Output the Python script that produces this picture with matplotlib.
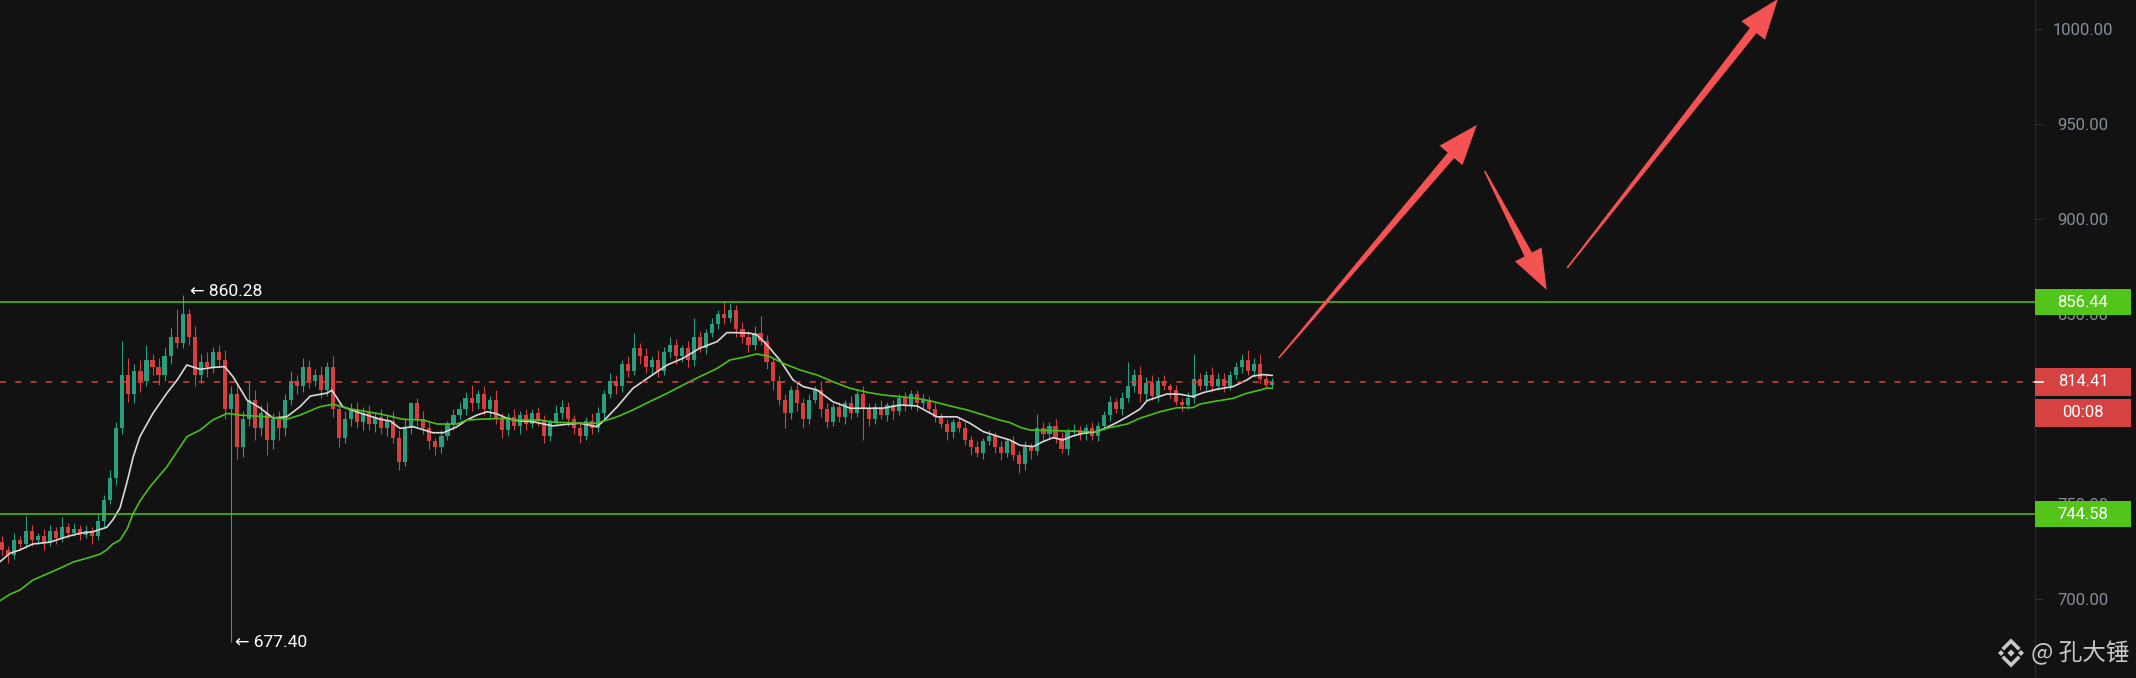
import matplotlib
matplotlib.use('Agg')
import matplotlib.pyplot as plt
from matplotlib.patches import Rectangle, Polygon
from matplotlib.lines import Line2D
from matplotlib.transforms import IdentityTransform
import numpy as np

plt.rcParams['font.family'] = ['Roboto', 'DejaVu Sans']

# ---- data ----
first_open = 730
# close of every bar (open = previous close)
closes = [726, 723, 731, 729, 736, 731, 733, 730, 736, 732,
          738, 735, 737, 734, 736, 733, 741, 752, 764, 790,
          818, 808, 820, 815, 826, 822, 818, 828, 838, 835,
          850, 838, 818, 825, 822, 830, 826, 800, 808, 780,
          795, 805, 790, 798, 784, 795, 790, 805, 815, 812,
          822, 815, 818, 810, 822, 800, 785, 795, 800, 793,
          798, 792, 796, 790, 794, 785, 772, 790, 803, 795,
          790, 783, 780, 786, 792, 797, 800, 806, 803, 808,
          800, 805, 795, 789, 796, 791, 797, 792, 798, 794,
          786, 793, 798, 801, 795, 790, 786, 794, 790, 798,
          808, 815, 812, 824, 820, 832, 828, 822, 826, 820,
          830, 834, 828, 832, 826, 838, 832, 840, 845, 850,
          848, 852, 842, 838, 834, 840, 836, 825, 815, 805,
          798, 810, 803, 795, 805, 810, 800, 793, 801, 796,
          803, 798, 808, 800, 795, 801, 797, 802, 799, 806,
          802, 808, 803, 805, 800, 796, 792, 788, 793, 790,
          784, 780, 777, 783, 786, 780, 777, 783, 776, 771,
          780, 778, 790, 787, 791, 785, 779, 788, 789, 787,
          790, 786, 791, 797, 804, 800, 806, 812, 818, 808,
          814, 807, 815, 812, 810, 804, 802, 806, 816, 812,
          818, 812, 816, 812, 818, 822, 826, 820, 824, 816,
          813, 814.41]
# upper / lower shadow length beyond the body
wick_up = [3, 2, 4, 2, 8, 3, 2, 4, 3, 2,
           5, 2, 3, 2, 3, 2, 4, 3, 4, 3,
           18, 9, 4, 6, 8, 3, 5, 4, 5, 15,
           10.28, 3, 6, 4, 5, 3, 4, 5, 4, 6,
           4, 10, 5, 4, 6, 3, 4, 3, 5, 3,
           5, 4, 3, 5, 3, 6, 3, 4, 3, 4,
           3, 4, 2, 4, 3, 5, 4, 5, 1, 3,
           4, 3, 2, 3, 2, 3, 4, 3, 7, 2,
           4, 2, 5, 3, 2, 4, 2, 3, 2, 3,
           3, 2, 4, 4, 3, 2, 3, 2, 4, 3,
           2, 4, 3, 2, 4, 8, 3, 4, 2, 5,
           3, 4, 3, 2, 4, 10, 3, 2, 3, 2,
           7, 4, 3, 4, 3, 4, 9, 3, 2, 3,
           3, 2, 4, 3, 3, 2, 5, 3, 2, 3,
           2, 4, 2, 4, 3, 2, 4, 2, 3, 2,
           3, 2, 2, 3, 2, 3, 2, 3, 2, 3,
           3, 2, 3, 2, 3, 2, 3, 2, 3, 2,
           3, 2, 7.6, 3, 2, 4, 3, 2, 3, 2,
           2, 3, 2, 2, 3, 2, 3, 13, 3, 5,
           3, 4, 2, 3, 2, 3, 2, 3, 13, 3,
           2, 4, 3, 3, 2, 3, 3, 5, 3, 5,
           3, 2]
wick_dn = [3, 4, 2, 3, 2, 3, 2, 4, 2, 3,
           2, 3, 2, 3, 2, 4, 2, 3, 2, 4,
           3, 4, 5, 6, 3, 4, 5, 3, 4, 3,
           3, 4, 6, 4, 5, 3, 4, 5, 122.6, 6,
           5, 4, 6, 4, 8, 5, 6, 4, 3, 4,
           3, 4, 3, 4, 3, 4, 5, 3, 4, 3,
           4, 3, 4, 3, 4, 3, 4, 2, 3, 4,
           3, 4, 4, 3, 2, 3, 2, 3, 4, 3,
           3, 4, 3, 4, 3, 2, 4, 3, 2, 3,
           4, 3, 2, 3, 4, 3, 4, 2, 3, 2,
           3, 2, 4, 3, 3, 2, 4, 3, 4, 3,
           2, 3, 4, 3, 4, 3, 2, 3, 2, 3,
           3, 2, 4, 3, 4, 3, 2, 4, 5, 3,
           8, 3, 4, 5, 3, 2, 4, 3, 2, 3,
           4, 3, 2, 16, 4, 3, 2, 3, 4, 2,
           3, 2, 4, 3, 2, 3, 2, 4, 3, 2,
           3, 4, 2, 3, 2, 3, 4, 2, 3, 4.4,
           3, 4, 2, 3, 2, 3, 2, 3, 2, 3,
           3, 2, 3, 2, 3, 2, 3, 2, 3, 4,
           3, 2, 3, 2, 4, 2, 3, 2, 3, 2,
           2, 3, 2, 3, 2, 2, 3, 2, 3, 2,
           2, 2]

# fast MA (white) sampled along the bars
white_ma_x = [-0.4, 1.3, 3.0, 5.1, 8.0, 10.8, 13.0, 15.1, 17.4, 18.4, 19.6, 20.8, 21.8, 22.9,
              25.1, 27.4, 29.1, 30.7, 32.9, 35.0, 37.0, 38.4, 40.7, 42.9, 45.0, 47.3, 49.5,
              51.2, 54.0, 54.8, 56.6, 59.5, 62.8, 64.5, 66.1, 68.3, 71.6, 73.3, 75.6, 77.2,
              78.9, 80.6, 82.2, 83.9, 85.5, 88.2, 91.5, 93.9, 96.0, 98.8, 99.8, 102.2, 104.8,
              107.6, 110.5, 113.1, 115.9, 118.8, 120.4, 122.1, 124.3, 125.4, 127.1, 129.2,
              131.4, 133.1, 135.4, 138.0, 140.9, 143.7, 146.3, 149.2, 152.0, 155.3, 158.6,
              160.8, 163.0, 165.8, 167.4, 169.1, 171.3, 172.9, 174.6, 176.2, 177.9, 179.6,
              181.9, 183.6, 185.2, 186.9, 189.0, 190.2, 191.9, 193.5, 195.7, 197.8, 199.5,
              201.8, 204.5, 206.8, 207.8, 209.5, 211.0]
white_ma = [719.5, 724.1, 725.9, 729.0, 730.0, 732.9, 734.7, 735.5, 737.8, 741.7, 748.0, 762.0,
            775.0, 785.5, 798.0, 808.5, 815.4, 823.3, 821.0, 822.0, 822.4, 817.0, 804.8, 800.6,
            795.4, 796.0, 801.3, 806.9, 808.5, 810.0, 801.3, 798.0, 794.7, 793.8, 789.9, 790.8,
            787.6, 787.6, 790.8, 794.3, 796.9, 798.7, 797.5, 795.2, 794.0, 793.4, 791.2, 792.1,
            792.6, 790.8, 793.4, 801.3, 811.0, 817.1, 823.3, 826.8, 832.1, 835.6, 840.3, 840.3,
            840.0, 839.1, 833.8, 825.9, 815.4, 811.9, 810.1, 804.0, 800.5, 800.5, 800.5, 802.2,
            801.7, 796.0, 796.0, 792.6, 788.2, 785.3, 783.8, 781.0, 780.3, 782.9, 785.0, 783.8,
            785.9, 787.3, 788.2, 790.5, 793.0, 796.0, 800.0, 804.5, 806.3, 808.0, 807.9, 806.6,
            808.7, 810.5, 811.9, 815.4, 817.5, 818.2, 817.8]
# slow MA (green)
green_ma_x = [-0.4, 1.3, 3.0, 5.1, 8.0, 9.6, 11.8, 14.6, 16.3, 17.4, 18.4, 19.6, 20.8, 21.8,
              22.9, 24.6, 27.4, 30.7, 32.9, 35.0, 37.4, 39.5, 44.0, 47.3, 49.5, 52.8, 55.0,
              57.3, 60.6, 62.8, 64.9, 66.6, 69.9, 72.3, 75.6, 77.2, 79.4, 83.2, 84.9, 89.4,
              91.5, 96.0, 98.8, 102.2, 104.8, 107.6, 110.5, 113.1, 115.9, 118.8, 120.9, 123.1,
              125.4, 127.6, 129.7, 132.6, 135.4, 138.0, 140.9, 143.7, 146.3, 149.2, 152.0,
              154.7, 157.5, 160.3, 163.0, 165.8, 167.4, 169.1, 170.8, 175.2, 179.6, 181.9,
              183.6, 186.9, 189.0, 192.4, 195.2, 197.8, 199.0, 201.2, 204.5, 206.8, 209.0,
              210.1, 211.0]
green_ma = [699.0, 702.5, 704.8, 710.0, 714.0, 716.2, 719.5, 722.0, 723.7, 725.9, 729.0, 731.1,
            737.0, 745.2, 751.5, 759.2, 769.7, 785.5, 789.0, 794.3, 797.8, 796.9, 796.0, 794.7,
            796.9, 801.3, 802.6, 800.5, 798.7, 797.5, 796.0, 794.7, 794.3, 792.2, 792.2, 794.3,
            794.7, 795.2, 794.3, 794.3, 793.2, 792.6, 792.6, 796.0, 799.6, 804.0, 808.4, 812.7,
            817.1, 821.5, 825.9, 827.3, 829.1, 827.6, 824.2, 820.6, 818.0, 814.5, 811.0, 808.9,
            807.5, 806.6, 805.7, 804.0, 801.7, 799.6, 797.0, 794.2, 793.0, 790.5, 789.0, 788.7,
            788.2, 788.2, 790.0, 792.2, 795.2, 798.7, 800.8, 800.8, 802.7, 804.0, 805.7, 808.4,
            810.1, 811.1, 811.0]

resistance = 856.44
support = 744.58
last_price = 814.41
countdown = '00:08'
y_ticks = [700, 750, 800, 850, 900, 950, 1000]

# hand-drawn forecast arrows (bar, price): tail -> tip
arrow_tails = [(212.1, 827.0), (246.3, 925.4), (260.0, 874.4)]
arrow_tips = [(245.0, 949.7), (256.6, 862.8), (295.0, 1016.0)]

watermark = '@ 孔大锤'

# ---- style ----
W, H, DPI = 2136, 678, 100
BG = '#121212'
UP = '#2a9d7f'
DOWN = '#d5403f'
LINE_GREEN = '#52c41a'
BOX_RED = '#d64242'
ARROW_RED = '#f55353'
AXIS_PX = 2035
BAR_PX = 6.02

fig = plt.figure(figsize=(W / DPI, H / DPI), dpi=DPI, facecolor=BG)
ax = fig.add_axes([0, 0, AXIS_PX / W, 1], facecolor=BG)
ax.set_xlim(-2 / BAR_PX, (AXIS_PX - 2) / BAR_PX)
ax.set_ylim(658.45, 1015.48)
ax.set_autoscale_on(False)

# candles
c = np.array(closes, float)
o = np.concatenate([[first_open], c[:-1]])
hi = np.maximum(o, c) + np.array(wick_up, float)
lo = np.minimum(o, c) - np.array(wick_dn, float)
idx = np.arange(len(c))
col = np.where(c >= o, UP, DOWN)
ax.vlines(idx, lo, hi, colors=col, linewidth=0.8, zorder=2)
ax.bar(idx, np.maximum(np.abs(c - o), 0.6), bottom=np.minimum(o, c), width=0.68,
       color=col, linewidth=0, zorder=2)

# moving averages
ax.plot(white_ma_x, white_ma, color='#d9d9d9', lw=1.2, zorder=3)
ax.plot(green_ma_x, green_ma, color='#4cbf17', lw=1.2, zorder=3)

# horizontal levels
ax.axhline(resistance, color=LINE_GREEN, lw=1.1, zorder=4)
ax.axhline(support, color=LINE_GREEN, lw=1.1, zorder=4)
ax.axhline(last_price, color=BOX_RED, lw=1.1, dashes=(4, 6), zorder=4)

# high / low markers
i_hi, i_lo = int(np.argmax(hi)), int(np.argmin(lo))
ax.annotate(f'\u2190 {hi[i_hi]:.2f}', xy=(i_hi, hi[i_hi]), xytext=(5, 2),
            textcoords='offset points', va='center', ha='left', color='white', fontsize=12.5)
ax.annotate(f'\u2190 {lo[i_lo]:.2f}', xy=(i_lo, lo[i_lo]), xytext=(3, 0),
            textcoords='offset points', va='center', ha='left', color='white', fontsize=12.5)

# tapered arrows, built in pixel space
for tail, tip in zip(arrow_tails, arrow_tips):
    t = ax.transData.transform(tail)
    p = ax.transData.transform(tip)
    u = (p - t) / np.hypot(*(p - t))
    nrm = np.array([-u[1], u[0]])
    b = p - 40 * u
    pts = [t + 0.8 * nrm, b + 4.2 * nrm, b + 15 * nrm, p,
           b - 15 * nrm, b - 4.2 * nrm, t - 0.8 * nrm]
    ax.add_patch(Polygon(pts, closed=True, transform=IdentityTransform(),
                         facecolor=ARROW_RED, edgecolor='none', zorder=6))

# right price axis
ax.yaxis.tick_right()
ax.set_yticks(y_ticks)
ax.set_yticklabels([f'{v:.2f}' for v in y_ticks])
ax.tick_params(axis='y', length=6, width=0.8, color='#2b3139', labelcolor='#848e9c',
               labelsize=12, pad=28.5)
for tk in ax.yaxis.get_major_ticks():
    tk.label2.set_horizontalalignment('center')
ax.set_xticks([])
for s in ['top', 'bottom', 'left']:
    ax.spines[s].set_visible(False)
ax.spines['right'].set_color('#26292e')
ax.spines['right'].set_linewidth(0.8)

BOX_W = 96


def price_box(price, text, color, h=26, shift=0):
    yc = ax.transData.transform((0, price))[1] - shift
    ax.add_patch(Rectangle((AXIS_PX, yc - h / 2), BOX_W, h, transform=IdentityTransform(),
                           facecolor=color, edgecolor='none', clip_on=False, zorder=10))
    ax.text(AXIS_PX + BOX_W / 2, yc, text, transform=IdentityTransform(), ha='center',
            va='center', color='white', fontsize=12, clip_on=False, zorder=11)
    return yc


price_box(resistance, f'{resistance:.2f}', LINE_GREEN)
price_box(support, f'{support:.2f}', LINE_GREEN)
y_last = price_box(last_price, f'{last_price:.2f}', BOX_RED, h=28)
price_box(last_price, countdown, BOX_RED, h=28, shift=31)
ax.add_line(Line2D([AXIS_PX, AXIS_PX + 8], [y_last, y_last], color='white', lw=1.2,
                   transform=IdentityTransform(), clip_on=False, zorder=12))

# watermark (logo + name)
cx, cy = 2011, 25
wm = '#c8c8c8'
for dx, r in [(0, 3.6), (-10, 3.0), (10, 3.0)]:
    ax.add_patch(Polygon([(cx + dx - r, cy), (cx + dx, cy + r), (cx + dx + r, cy), (cx + dx, cy - r)],
                         transform=IdentityTransform(), facecolor=wm, edgecolor='none',
                         clip_on=False, zorder=12))
for sgn in (1, -1):
    ax.add_line(Line2D([cx - 7, cx, cx + 7], [cy + sgn * 5, cy + sgn * 12, cy + sgn * 5],
                       color=wm, lw=2.6, solid_joinstyle='miter', transform=IdentityTransform(),
                       clip_on=False, zorder=12))
ax.text(2031, cy, watermark, transform=IdentityTransform(), ha='left', va='center', color=wm,
        fontsize=17, family=['Noto Sans CJK SC', 'DejaVu Sans'], clip_on=False, zorder=12)

fig.savefig('out.png', dpi=DPI, facecolor=BG)
